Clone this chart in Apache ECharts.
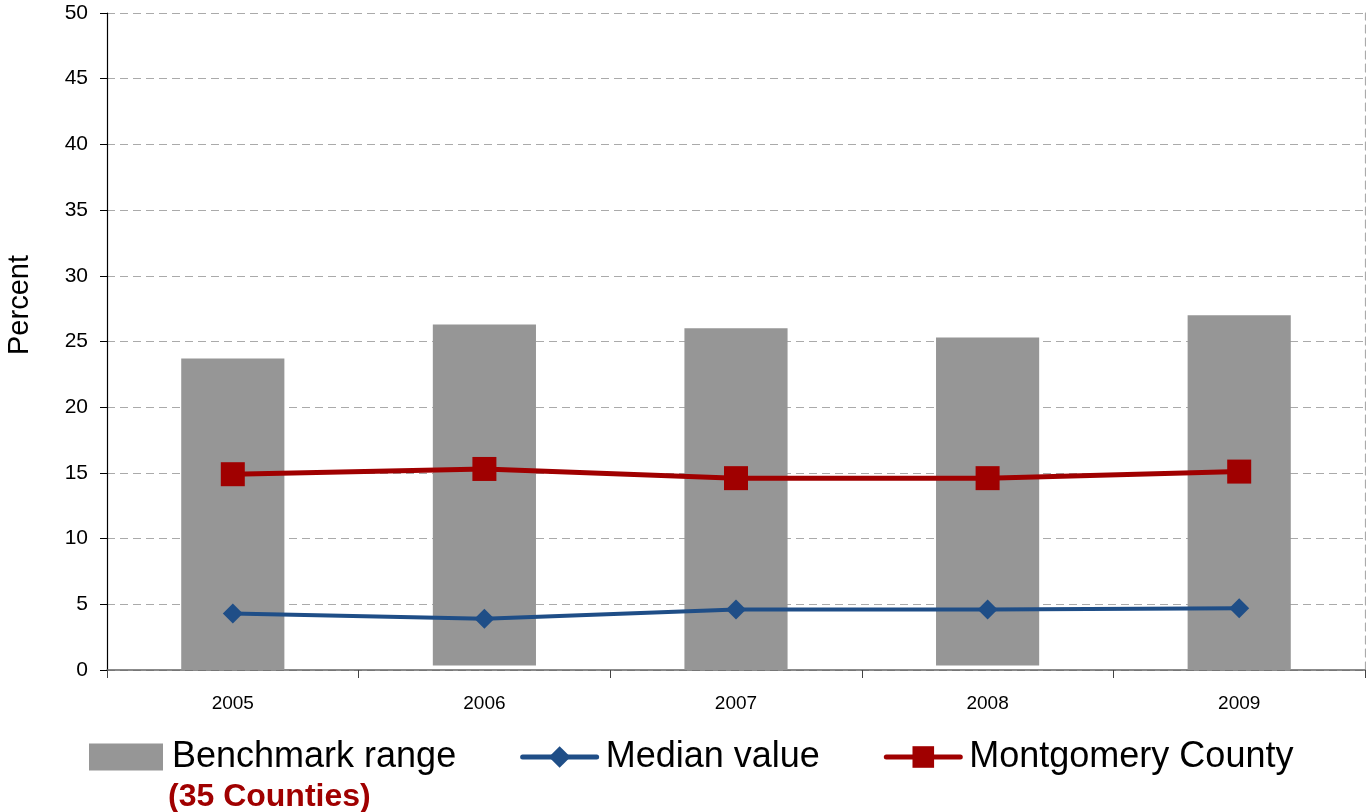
<!DOCTYPE html>
<html>
<head>
<meta charset="utf-8">
<title>Benchmark range</title>
<script src="https://cdn.jsdelivr.net/npm/echarts@6/dist/echarts.min.js"></script>
<style>
  html, body { margin: 0; padding: 0; background: #fff; }
  #chart { width: 1366px; height: 812px; }
</style>
</head>
<body>
<div id="chart"></div>
<script>
// data
const years = ['2005', '2006', '2007', '2008', '2009']
const benchmarkLow = [0, 0.35, 0, 0.35, 0]
const benchmarkHigh = [23.7, 26.3, 26.0, 25.3, 27.0]
const medianValue = [4.3, 3.9, 4.6, 4.6, 4.7]
const montgomery = [14.9, 15.3, 14.6, 14.6, 15.1]
const yTicks = [0, 5, 10, 15, 20, 25, 30, 35, 40, 45, 50]

const font = '"Liberation Sans", Arial, sans-serif'
const rangeSize = benchmarkHigh.map((h, i) => +(h - benchmarkLow[i]).toFixed(2))

const chart = echarts.init(document.getElementById('chart'))
chart.setOption({
  animation: false,
  grid: { left: 107, right: 1, top: 13, bottom: 142 },
  xAxis: {
    type: 'category',
    data: years,
    boundaryGap: true,
    axisLine: { lineStyle: { color: '#666', width: 1.5 } },
    axisTick: { show: true, length: 8, inside: false, lineStyle: { color: '#444' } },
    axisLabel: { color: '#000', fontSize: 19, fontFamily: font, margin: 24 }
  },
  yAxis: [{
    type: 'value',
    min: yTicks[0],
    max: yTicks[yTicks.length - 1],
    interval: 5,
    axisLine: { show: true, lineStyle: { color: '#000', width: 1.2 } },
    axisTick: { show: true, length: 7, lineStyle: { color: '#000' } },
    axisLabel: { color: '#000', fontSize: 21, fontFamily: font, margin: 19 },
    splitLine: { show: true, lineStyle: { color: '#aaa', type: [8, 5], width: 1.2 } }
  }, {
    // dashed right border of the plot
    type: 'value',
    position: 'right',
    min: 0,
    max: 50,
    interval: 5,
    axisLine: { show: true, lineStyle: { color: '#aaa', type: [8, 5], width: 1.2 } },
    axisTick: { show: false },
    axisLabel: { show: false },
    splitLine: { show: false }
  }],
  legend: {
    left: 89,
    top: 739,
    padding: 0,
    itemWidth: 74,
    itemHeight: 27,
    itemGap: 64,
    lineStyle: { width: 5, cap: 'round' },
    textStyle: { color: '#000', fontSize: 36, fontFamily: font, padding: [0, 0, 0, 4] },
    data: [
      { name: 'Benchmark range', icon: 'rect' },
      'Median value',
      'Montgomery County'
    ]
  },
  graphic: [{
    type: 'text',
    left: 168,
    top: 781,
    style: {
      text: '(35 Counties)',
      fill: '#a00000',
      font: 'bold 32px ' + font
    }
  }, {
    type: 'text',
    x: 20,
    y: 305,
    rotation: Math.PI / 2,
    style: {
      text: 'Percent',
      fill: '#000',
      font: '29px ' + font,
      align: 'center',
      verticalAlign: 'middle'
    }
  }],
  series: [
    {
      name: 'base',
      type: 'bar',
      stack: 'range',
      barWidth: '41%',
      itemStyle: { color: 'transparent' },
      emphasis: { disabled: true },
      data: benchmarkLow
    },
    {
      name: 'Benchmark range',
      type: 'bar',
      stack: 'range',
      barWidth: '41%',
      itemStyle: { color: '#969696' },
      data: rangeSize
    },
    {
      name: 'Median value',
      type: 'line',
      symbol: 'diamond',
      symbolSize: 20,
      lineStyle: { color: '#1f4e87', width: 4 },
      itemStyle: { color: '#1f4e87' },
      data: medianValue
    },
    {
      name: 'Montgomery County',
      type: 'line',
      symbol: 'rect',
      symbolSize: 24,
      lineStyle: { color: '#a00000', width: 5 },
      itemStyle: { color: '#a00000' },
      data: montgomery
    }
  ]
})
</script>
</body>
</html>
